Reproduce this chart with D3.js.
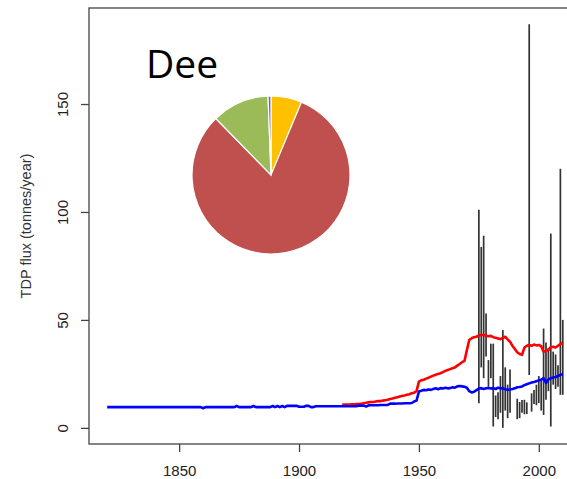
<!DOCTYPE html>
<html>
<head>
<meta charset="utf-8">
<script src="https://cdn.jsdelivr.net/npm/d3@7/dist/d3.min.js"></script>
<style>
  html, body { margin: 0; padding: 0; background: #fff; }
  svg { display: block; }
</style>
</head>
<body>
<svg id="chart" width="567" height="479"></svg>
<script>
// Annual modelled TDP flux, river Dee (tonnes/year)
const blueStartYear = 1820;
const blueFlux = [
  9.6, 9.6, 9.6, 9.6, 9.6, 9.6, 9.6, 9.6, 9.6, 9.6,            // 1820s
  9.6, 9.6, 9.6, 9.6, 9.6, 9.6, 9.6, 9.6, 9.6, 9.6,            // 1830s
  9.6, 9.6, 9.6, 9.6, 9.6, 9.6, 9.6, 9.6, 9.6, 9.6,            // 1840s
  9.6, 9.6, 9.6, 9.6, 9.6, 9.6, 9.6, 9.6, 9.6, 9.6,            // 1850s
  9.1, 9.6, 9.6, 9.6, 9.6, 9.6, 9.6, 9.6, 9.6, 9.6,            // 1860s
  9.6, 9.6, 9.6, 9.6, 10.1, 9.6, 9.6, 9.6, 9.6, 9.6,           // 1870s
  9.6, 10.1, 9.6, 9.6, 9.6, 9.6, 9.6, 9.6, 9.6, 10.1,          // 1880s
  9.6, 10.1, 9.6, 10.1, 9.6, 10.2, 10.2, 10.2, 10.2, 10.2,     // 1890s
  9.8, 9.8, 9.8, 10.2, 10.2, 9.6, 9.6, 10.0, 10.0, 10.0,       // 1900s
  10.0, 10.0, 10.0, 10.0, 10.0, 10.0, 10.0, 10.0, 10.0, 10.0,  // 1910s
  10.0, 10.0, 10.0, 10.0, 10.0, 10.3, 10.3, 10.3, 9.9, 10.4,   // 1920s
  10.5, 10.5, 10.5, 10.5, 10.6, 10.6, 10.6, 10.6, 11.2, 11.2,  // 1930s
  11.2, 11.3, 11.3, 11.3, 11.4, 11.4, 11.4, 11.5, 12.2, 12.6,  // 1940s
  16.8, 17.2, 17.6, 17.4, 17.8, 17.6, 18.0, 18.3, 17.9, 18.4,  // 1950s
  18.2, 18.6, 18.3, 18.4, 18.8, 18.6, 19.2, 19.4, 19.2, 19.0,  // 1960s
  18.6, 17.0, 16.4, 16.7, 17.5, 18.2, 18.4, 18.0, 18.3, 18.5,  // 1970s
  18.2, 18.4, 18.0, 18.6, 18.3, 18.4, 17.9, 17.6, 17.8, 18.0,  // 1980s
  18.3, 18.8, 18.9, 19.2, 19.8, 20.2, 20.6, 21.0, 21.2, 21.6,  // 1990s
  22.0, 22.3, 23.0, 20.8, 22.4, 23.0, 23.3, 23.6, 24.0, 24.5,  // 2000s
  25.0                                                          // 2010
];

const redStartYear = 1918;
const redFlux = [
  10.8, 10.8,                                                   // 1918-19
  10.8, 10.8, 10.9, 10.9, 11.0, 11.0, 11.2, 11.4, 11.6, 11.8,  // 1920s
  12.0, 12.0, 12.2, 12.4, 12.4, 12.6, 12.8, 13.0, 13.4, 13.6,  // 1930s
  13.9, 14.2, 14.5, 14.8, 15.0, 15.3, 15.6, 16.0, 16.3, 17.0,  // 1940s
  21.4, 22.0, 22.3, 22.8, 23.2, 23.7, 24.2, 24.6, 25.0, 25.3,  // 1950s
  25.8, 26.4, 26.8, 27.2, 27.6, 28.0, 28.8, 29.6, 30.4, 31.0,  // 1960s
  36.0, 40.7, 41.5, 42.0, 42.2, 42.8, 43.0, 43.0, 42.6, 42.4,  // 1970s
  42.6, 42.0, 41.7, 41.4, 41.1, 41.6, 42.2, 41.0, 39.9, 38.0,  // 1980s
  36.5, 35.0, 34.2, 33.8, 37.2, 38.0, 38.4, 38.0, 38.6, 38.2,  // 1990s
  38.4, 37.8, 35.3, 35.6, 36.0, 37.4, 37.6, 37.2, 38.0, 38.8,  // 2000s
  39.5                                                          // 2010
];

// Observed annual flux ranges (low / high estimates)
const obsYears = [1975, 1976, 1977, 1978, 1979, 1980, 1981, 1982, 1983, 1984, 1985, 1986, 1987, 1988,
                  1991, 1992, 1993, 1994, 1995, 1996, 1997, 1998, 1999, 2000, 2001, 2002, 2003, 2004,
                  2005, 2006, 2007, 2008, 2009, 2010];
const obsLow  = [11.4, 28, 23, 33, 19, 23, 0.6, 5, 4, 7, 0, 8, 4.5, 7,
                 4, 4.5, 7, 6.3, 6.4, 24.5, 7.5, 11, 10.5, 11.5, 8, 6, 13, 17,
                 0.6, 20, 18, 19, 15.3, 15.3];
const obsHigh = [101, 83.8, 89, 53, 31.4, 39, 39, 15, 16.5, 24, 45.3, 28, 20, 27,
                 13.5, 12, 12.9, 13, 11.8, 187, 16, 17.5, 20, 24, 22, 46, 39.5, 37,
                 90, 35.3, 34, 29, 120, 50];

// Source apportionment pie
const pieLabels = ["Sewage", "Agriculture", "Background", "Industry"];
const pieShares = [6.3, 81.2, 11.7, 0.6];
const pieColors = ["#FFC000", "#C0504D", "#9BBB59", "#8064A2"];

const xTicks = [1850, 1900, 1950, 2000];
const yTicks = [0, 50, 100, 150];
const riverName = "Dee";
const yTitle = "TDP flux (tonnes/year)";

// ---------------------------------------------------------------
const svg = d3.select("#chart");
const plot = { left: 89, right: 581, top: 8, bottom: 444 };

const blue = blueFlux.map((v, i) => ({ year: blueStartYear + i, v }));
const red = redFlux.map((v, i) => ({ year: redStartYear + i, v }));
const obs = obsYears.map((y, i) => ({ year: y, lo: obsLow[i], hi: obsHigh[i] }));

// R-style 4% padding around the data ranges
const xExt = d3.extent(blue.map(d => d.year).concat(obsYears));
const yExt = d3.extent(blueFlux.concat(redFlux, obsLow, obsHigh));
const xPad = (xExt[1] - xExt[0]) * 0.04;
const yPad = (yExt[1] - yExt[0]) * 0.04;

const x = d3.scaleLinear().domain([xExt[0] - xPad, xExt[1] + xPad]).range([plot.left, plot.right]);
const y = d3.scaleLinear().domain([yExt[0] - yPad, yExt[1] + yPad]).range([plot.bottom, plot.top]);

// observed ranges
svg.append("g").selectAll("line").data(obs).join("line")
  .attr("x1", d => x(d.year)).attr("x2", d => x(d.year))
  .attr("y1", d => y(d.lo)).attr("y2", d => y(d.hi))
  .attr("stroke", "#333").attr("stroke-width", 1.7);

const line = d3.line().x(d => x(d.year)).y(d => y(d.v));
svg.append("path").datum(red).attr("d", line)
  .attr("fill", "none").attr("stroke", "#FF0000").attr("stroke-width", 2.6)
  .attr("stroke-linejoin", "round");
svg.append("path").datum(blue).attr("d", line)
  .attr("fill", "none").attr("stroke", "#0000FF").attr("stroke-width", 2.6)
  .attr("stroke-linejoin", "round");

// frame
svg.append("rect")
  .attr("x", plot.left).attr("y", plot.top)
  .attr("width", plot.right - plot.left).attr("height", plot.bottom - plot.top)
  .attr("fill", "none").attr("stroke", "#444").attr("stroke-width", 1.3);

// axes
const fontFam = "'Liberation Sans', Arial, sans-serif";
const yAxis = svg.append("g").attr("transform", `translate(${plot.left},0)`)
  .call(d3.axisLeft(y).tickValues(yTicks).tickSize(8).tickFormat(d3.format("d")));
yAxis.select(".domain").remove();
yAxis.selectAll(".tick line").attr("stroke", "#444").attr("stroke-width", 1.3);
yAxis.selectAll(".tick text")
  .attr("transform", "rotate(-90)")
  .attr("x", 0).attr("y", -21)
  .attr("dy", 0)
  .attr("text-anchor", "middle")
  .attr("font-family", fontFam).attr("font-size", 15).attr("fill", "#222");

const xAxis = svg.append("g").attr("transform", `translate(0,${plot.bottom})`)
  .call(d3.axisBottom(x).tickValues(xTicks).tickSize(8).tickFormat(d3.format("d")));
xAxis.select(".domain").remove();
xAxis.selectAll(".tick line").attr("stroke", "#444").attr("stroke-width", 1.3);
xAxis.selectAll(".tick text")
  .attr("y", 32).attr("dy", 0)
  .attr("font-family", fontFam).attr("font-size", 15).attr("fill", "#222");

svg.append("text")
  .attr("transform", `translate(31,${(plot.top + plot.bottom) / 2}) rotate(-90)`)
  .attr("text-anchor", "middle")
  .attr("font-family", fontFam).attr("font-size", 14.5).attr("fill", "#333")
  .text(yTitle);

// river name
svg.append("text")
  .attr("x", 146).attr("y", 78)
  .attr("font-family", "'Open Sans', 'Noto Sans', sans-serif").attr("font-size", 39)
  .attr("fill", "#000")
  .text(riverName);

// pie
const pie = d3.pie().sort(null).value(d => d)(pieShares);
const arc = d3.arc().innerRadius(0).outerRadius(79);
svg.append("g").attr("transform", "translate(271,175)")
  .selectAll("path").data(pie).join("path")
  .attr("d", arc)
  .attr("fill", (d, i) => pieColors[i])
  .attr("stroke", "#fff").attr("stroke-width", 1.2)
  .append("title").text((d, i) => pieLabels[i]);
</script>
</body>
</html>
